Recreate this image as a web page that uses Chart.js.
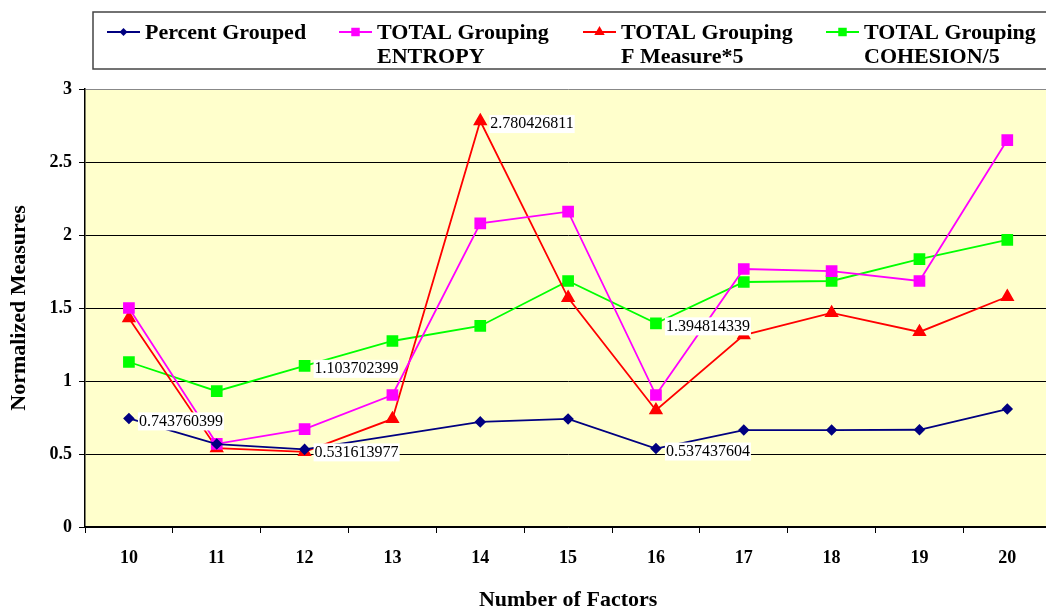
<!DOCTYPE html>
<html>
<head>
<meta charset="utf-8">
<script src="https://cdn.jsdelivr.net/npm/chart.js@4"></script>
<style>
html, body { margin: 0; padding: 0; background: #fff; overflow: hidden; }
#wrap { width: 1046px; height: 614px; overflow: hidden; position: relative; }
#wrap canvas { position: absolute; left: 0; top: 0; }
</style>
</head>
<body>
<div id="wrap"><canvas id="chart" width="1060" height="614"></canvas></div>
<script>
// values
var factors = ['10', '11', '12', '13', '14', '15', '16', '17', '18', '19', '20'];
var percentGrouped = [0.743760399, 0.568, 0.531613977, null, 0.72, 0.74, 0.537437604, 0.664, 0.664, 0.666, 0.808];
var entropy = [1.50, 0.57, 0.67, 0.904, 2.08, 2.16, 0.904, 1.767, 1.753, 1.685, 2.65];
var fMeasure = [1.43, 0.54, 0.514, 0.74, 2.780426811, 1.57, 0.80, 1.315, 1.466, 1.336, 1.577];
var cohesion = [1.13, 0.93, 1.103702399, 1.274, 1.377, 1.685, 1.394814339, 1.678, 1.685, 1.835, 1.966];
var seriesNames = ['Percent Grouped', 'TOTAL Grouping\nENTROPY', 'TOTAL Grouping\nF Measure*5', 'TOTAL Grouping\nCOHESION/5'];
// points that carry a value label: [series, index]
var labelled = [[0, 0], [0, 2], [0, 6], [2, 4], [3, 2], [3, 6]];

var serif = '"Liberation Serif", "Times New Roman", serif';

function makeSet(name, data, color, style, radius) {
    return {
        label: name,
        data: data,
        borderColor: color,
        backgroundColor: color,
        pointBackgroundColor: color,
        pointBorderColor: color,
        pointStyle: style,
        pointRadius: radius,
        pointHoverRadius: radius,
        borderWidth: 1.8,
        tension: 0,
        spanGaps: true
    };
}

var plotBg = {
    id: 'plotBg',
    beforeDraw: function (chart) {
        var a = chart.chartArea, ctx = chart.ctx;
        ctx.save();
        ctx.fillStyle = '#FFFFCC';
        ctx.fillRect(a.left, a.top, a.right - a.left, a.bottom - a.top);
        ctx.restore();
    }
};

var valueLabels = {
    id: 'valueLabels',
    afterDatasetsDraw: function (chart) {
        var ctx = chart.ctx;
        ctx.save();
        ctx.font = '16px ' + serif;
        ctx.textBaseline = 'middle';
        labelled.forEach(function (p) {
            var pt = chart.getDatasetMeta(p[0]).data[p[1]];
            var txt = String(chart.data.datasets[p[0]].data[p[1]]);
            var w = ctx.measureText(txt).width;
            var x = pt.x + 9, y = pt.y + 3;
            ctx.fillStyle = '#fff';
            ctx.fillRect(x, y - 9, w + 2, 18);
            ctx.fillStyle = '#000';
            ctx.fillText(txt, x + 1, y);
        });
        ctx.restore();
    }
};

var boxLegend = {
    id: 'boxLegend',
    afterDraw: function (chart) {
        var ctx = chart.ctx;
        var starts = [107, 339, 583, 826];
        var marks = [4, 6, 6, 6];
        ctx.save();
        ctx.strokeStyle = '#444';
        ctx.lineWidth = 1.5;
        ctx.strokeRect(93, 12, 1000, 57);
        ctx.font = 'bold 22px ' + serif;
        ctx.textBaseline = 'middle';
        chart.data.datasets.forEach(function (ds, i) {
            var x = starts[i], y = 32;
            ctx.strokeStyle = ds.borderColor;
            ctx.lineWidth = 2;
            ctx.beginPath();
            ctx.moveTo(x, y);
            ctx.lineTo(x + 33, y);
            ctx.stroke();
            ctx.fillStyle = ds.backgroundColor;
            Chart.helpers.drawPoint(ctx, {pointStyle: ds.pointStyle, radius: marks[i], rotation: 0, borderWidth: 0}, x + 16.5, y);
            ctx.fillStyle = '#000';
            ds.label.split('\n').forEach(function (line, k) {
                ctx.fillText(line, x + 38, y + 1 + k * 24);
            });
        });
        ctx.restore();
    }
};

var ctx = document.getElementById('chart');
var myChart = new Chart(ctx, {
    type: 'line',
    data: {
        labels: factors,
        datasets: [
            makeSet(seriesNames[0], percentGrouped, '#000080', 'rectRot', 4.5),
            makeSet(seriesNames[1], entropy, '#FF00FF', 'rect', 7),
            makeSet(seriesNames[2], fMeasure, '#FF0000', 'triangle', 6.5),
            makeSet(seriesNames[3], cohesion, '#00FF00', 'rect', 7)
        ]
    },
    options: {
        responsive: false,
        animation: false,
        events: [],
        layout: {padding: {top: 89, left: 0, right: 2, bottom: 0}},
        plugins: {
            legend: {display: false},
            tooltip: {enabled: false}
        },
        scales: {
            x: {
                offset: true,
                grid: {offset: true, drawOnChartArea: false, drawTicks: true, tickLength: 6, color: '#000', tickColor: '#000'},
                border: {color: '#000', width: 1.5},
                ticks: {color: '#000', font: {family: serif, size: 18, weight: 'bold'}, padding: 15, maxRotation: 0},
                title: {display: true, text: 'Number of Factors', color: '#000', font: {family: serif, size: 22, weight: 'bold'}, padding: {top: 0, bottom: 0}},
                afterFit: function (s) { s.height = 87; }
            },
            y: {
                min: 0,
                max: 3,
                grid: {
                    color: function (c) { return c.tick && c.tick.value === 3 ? '#888' : '#000'; },
                    tickColor: '#000',
                    tickLength: 6,
                    lineWidth: 1
                },
                border: {color: '#000', width: 1.5},
                ticks: {
                    stepSize: 0.5,
                    color: '#000',
                    font: {family: serif, size: 18, weight: 'bold'},
                    padding: 7,
                    callback: function (v) { return String(v); }
                },
                title: {display: true, text: 'Normalized Measures', color: '#000', font: {family: serif, size: 22, weight: 'bold'}, padding: {top: 6, bottom: 8}},
                afterFit: function (s) { s.width = 85; }
            }
        }
    },
    plugins: [plotBg, valueLabels, boxLegend]
});
</script>
</body>
</html>
